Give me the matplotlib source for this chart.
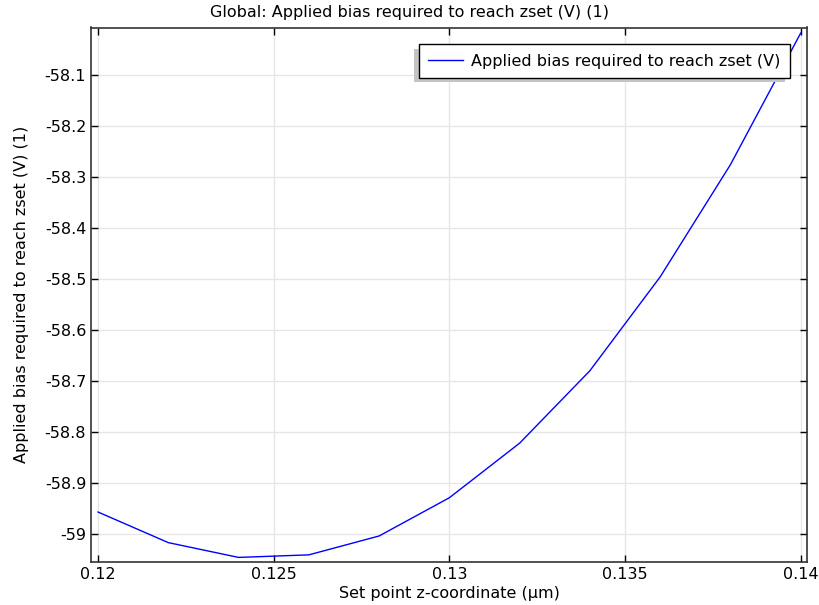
import matplotlib
matplotlib.use("Agg")
import matplotlib.pyplot as plt
from matplotlib.patches import Rectangle
import numpy as np

z_set = [0.120, 0.122, 0.124, 0.126, 0.128, 0.130, 0.132, 0.134, 0.136, 0.138, 0.140]
bias = [-58.957, -59.017, -59.046, -59.041, -59.004, -58.929, -58.822, -58.680, -58.496, -58.276, -58.018]
x_ticks = [0.12, 0.125, 0.13, 0.135, 0.14]
x_tick_labels = ["0.12", "0.125", "0.13", "0.135", "0.14"]
y_ticks = [-59.0, -58.9, -58.8, -58.7, -58.6, -58.5, -58.4, -58.3, -58.2, -58.1]
y_tick_labels = ["-59", "-58.9", "-58.8", "-58.7", "-58.6", "-58.5", "-58.4", "-58.3", "-58.2", "-58.1"]

plt.rcParams['font.family'] = ['DejaVu Sans']
plt.rcParams['axes.unicode_minus'] = False

fs = 11.5
fig = plt.figure(figsize=(8.19, 6.05), dpi=100)
ax = fig.add_axes([91/819, 43/605, 716/819, 534.5/605])

ax.plot(z_set, bias, color='#0000ff', lw=1.0, label='Applied bias required to reach zset (V)')

ax.set_xlim(0.1198, 0.14018)
ax.set_ylim(-59.055, -58.007)
ax.set_xticks(x_ticks)
ax.set_xticklabels(x_tick_labels)
ax.set_yticks(y_ticks)
ax.set_yticklabels(y_tick_labels)
ax.tick_params(direction='in', length=5, width=1, top=True, right=True, labelsize=fs, colors='black')
ax.grid(True, color='#e6e6e6', lw=1)
ax.set_axisbelow(True)
for s in ax.spines.values():
    s.set_color('#333333')
    s.set_linewidth(1.2)

fig.text(0.5, 1 - 13/605, 'Global: Applied bias required to reach zset (V) (1)', fontsize=fs,
         ha='center', va='center')
ax.set_xlabel('Set point z-coordinate (µm)', fontsize=fs, labelpad=3)
ax.set_ylabel('Applied bias required to reach zset (V) (1)', fontsize=fs, labelpad=11)

leg = ax.legend(loc='upper right', fontsize=fs, fancybox=False, shadow=False,
                framealpha=1, edgecolor='black', borderaxespad=1.05, handlelength=2.2,
                handletextpad=0.5, borderpad=0.6)
leg.get_frame().set_linewidth(1.0)

# manual shadow offset down-left, like the reference
fig.canvas.draw()
bb = leg.get_window_extent(fig.canvas.get_renderer())
inv = ax.transAxes.inverted()
(x0, y0) = inv.transform((bb.x0 - 5, bb.y0 - 4))
(x1, y1) = inv.transform((bb.x1 - 5, bb.y1 - 5))
ax.add_patch(Rectangle((x0, y0), x1 - x0, y1 - y0, transform=ax.transAxes,
                       facecolor='#c4c4c4', edgecolor='none', zorder=4.9, clip_on=False))

fig.savefig('out.png', dpi=100)
